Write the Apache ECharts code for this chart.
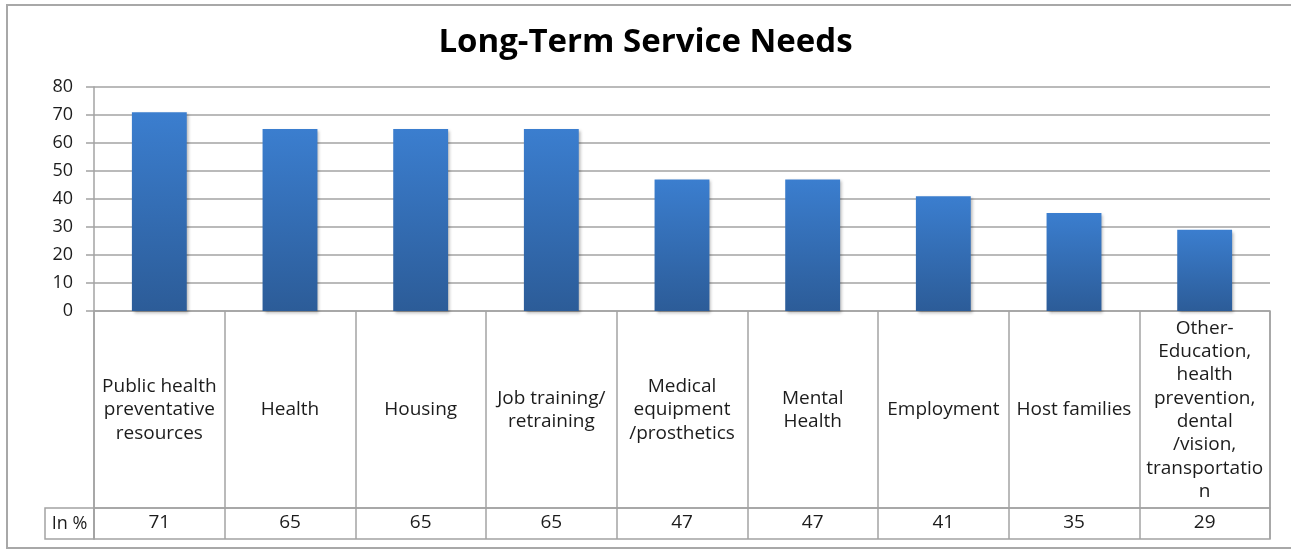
<!DOCTYPE html>
<html>
<head>
<meta charset="utf-8">
<title>Long-Term Service Needs</title>
<script src="https://cdn.jsdelivr.net/npm/echarts@6/dist/echarts.min.js"></script>
<style>
  html, body { margin: 0; padding: 0; background: #ffffff; }
  #chart { width: 1291px; height: 550px; }
</style>
</head>
<body>
<div id="chart"></div>
<script>
// Service categories (line breaks as they wrap in the table cells)
const categories = [
  'Public health\npreventative\nresources',
  'Health',
  'Housing',
  'Job training/\nretraining',
  'Medical\nequipment\n/prosthetics',
  'Mental\nHealth',
  'Employment',
  'Host families',
  'Other-\nEducation,\nhealth\nprevention,\ndental\n/vision,\ntransportatio\nn'
];
// Share of respondents, in percent
const percentValues = [71, 65, 65, 65, 47, 47, 41, 35, 29];
const rowLabel = 'In %';
const yTicks = { min: 0, max: 80, interval: 10 };

const LINE = '#a3a3a3';
const FONT = '"Open Sans", "Liberation Sans", sans-serif';
const TEXT = '#1c1c1c';
const FS_TABLE = 19;
const FS_AXIS = 18;

const chart = echarts.init(document.getElementById('chart'), null, { renderer: 'canvas' });

const gridL = 94, gridR = 21;

chart.setOption({
  animation: false,
  backgroundColor: '#ffffff',
  title: {
    text: 'Long-Term Service Needs',
    left: 'center',
    top: 21,
    textStyle: { fontFamily: FONT, fontWeight: 'bold', fontSize: 33, color: '#000' }
  },
  grid: [
    // plot area
    { left: gridL, right: gridR, top: 87, height: 224 },
    // category-name row of the data table
    { left: gridL, right: gridR, top: 311, height: 197, show: true, borderColor: LINE, borderWidth: 1.5 },
    // value row of the data table
    { left: gridL, right: gridR, top: 508, height: 31, show: true, borderColor: LINE, borderWidth: 1.5 }
  ],
  xAxis: [
    {
      gridIndex: 0, type: 'category', data: categories,
      axisLine: { show: false }, axisTick: { show: false }, axisLabel: { show: false },
      splitLine: { show: false }
    },
    {
      gridIndex: 1, type: 'category', data: categories,
      axisLine: { show: false }, axisTick: { show: false },
      splitLine: { show: true, lineStyle: { color: LINE, width: 1.5 } },
      axisLabel: {
        inside: true, margin: 98, interval: 0,
        verticalAlign: 'middle', align: 'center',
        fontFamily: FONT, fontSize: FS_TABLE, lineHeight: 23.3, color: TEXT
      }
    },
    {
      gridIndex: 2, type: 'category', data: categories,
      axisLine: { show: false }, axisTick: { show: false },
      splitLine: { show: true, lineStyle: { color: LINE, width: 1.5 } },
      axisLabel: {
        inside: true, margin: 16, interval: 0,
        verticalAlign: 'middle', align: 'center',
        fontFamily: FONT, fontSize: FS_TABLE, color: TEXT,
        formatter: (v, i) => String(percentValues[i])
      }
    }
  ],
  yAxis: [
    {
      gridIndex: 0, type: 'value', min: yTicks.min, max: yTicks.max, interval: yTicks.interval,
      axisLine: { show: true, lineStyle: { color: LINE, width: 1.5 } },
      axisTick: { show: true, length: 8, lineStyle: { color: LINE, width: 1.5 } },
      splitLine: { show: true, lineStyle: { color: LINE, width: 1.5 } },
      axisLabel: { margin: 21, fontFamily: FONT, fontSize: FS_AXIS, color: TEXT }
    },
    { gridIndex: 1, type: 'value', show: false },
    { gridIndex: 2, type: 'value', show: false }
  ],
  series: [
    {
      type: 'bar',
      xAxisIndex: 0, yAxisIndex: 0,
      data: percentValues,
      barWidth: '42%',
      itemStyle: {
        color: new echarts.graphic.LinearGradient(0, 0, 0, 1, [
          { offset: 0, color: '#3b7ecf' },
          { offset: 1, color: '#2c5c98' }
        ]),
        shadowColor: 'rgba(0,0,0,0.28)',
        shadowBlur: 3,
        shadowOffsetX: 2,
        shadowOffsetY: 2
      }
    }
  ],
  graphic: [
    // outer chart frame
    {
      type: 'rect', silent: true, z: 0,
      shape: { x: 7, y: 5, width: 1290, height: 543 },
      style: { fill: 'none', stroke: '#a8a8a8', lineWidth: 2 }
    },
    // row header cell of the data table
    {
      type: 'rect', silent: true,
      shape: { x: 45, y: 508, width: 49, height: 31 },
      style: { fill: 'none', stroke: LINE, lineWidth: 1.5 }
    },
    {
      type: 'text', silent: true,
      x: 69.5, y: 523.5,
      style: {
        text: rowLabel, fontFamily: FONT, fontSize: FS_AXIS, fill: TEXT,
        textAlign: 'center', textVerticalAlign: 'middle'
      }
    }
  ]
});
</script>
</body>
</html>
